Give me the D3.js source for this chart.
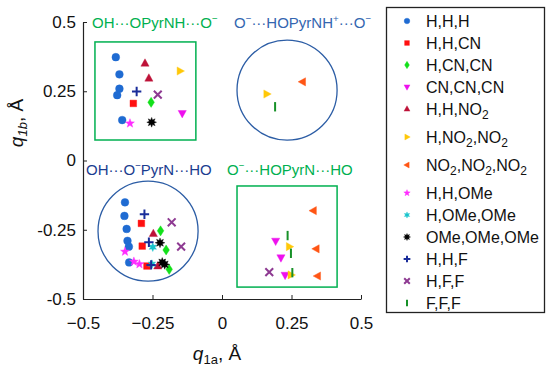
<!DOCTYPE html>
<html>
<head>
<meta charset="utf-8">
<script src="https://cdn.jsdelivr.net/npm/d3@7"></script>
<style>
body { margin: 0; background: #fff; }
svg { font-family: "Liberation Sans", Arial, sans-serif; }
</style>
</head>
<body>
<div id="chart"></div>
<script>
// q1a, q1b pairs for each substituent set
var hhh = [[-0.382, 0.373], [-0.369, 0.311], [-0.369, 0.259], [-0.377, 0.236], [-0.359, 0.146],
           [-0.349, -0.151], [-0.351, -0.200], [-0.343, -0.247], [-0.340, -0.290], [-0.335, -0.311], [-0.334, -0.368]];
var hhcn = [[-0.319, 0.206], [-0.290, -0.227], [-0.287, -0.309], [-0.270, -0.381]];
var hcncn = [[-0.255, 0.210], [-0.221, -0.254], [-0.201, -0.323], [-0.190, -0.393]];
var cncncn = [[-0.143, 0.170], [0.193, -0.291], [0.212, -0.351], [0.227, -0.414]];
var hhno2 = [[-0.277, 0.351], [-0.263, 0.297], [-0.247, -0.264], [-0.231, -0.381]];
var hno2no2 = [[-0.151, 0.323], [0.161, 0.240], [0.242, -0.311], [0.248, -0.413]];
var no2no2no2 = [[0.290, 0.284], [0.329, -0.181], [0.339, -0.319], [0.344, -0.417]];
var hhome = [[-0.331, 0.134], [-0.349, -0.329], [-0.317, -0.365], [-0.297, -0.374]];
var homeome = [[-0.249, -0.313], [-0.252, -0.374]];
var omeomeome = [[-0.253, 0.138], [-0.223, -0.297], [-0.215, -0.368], [-0.206, -0.375]];
var hhf = [[-0.307, 0.249], [-0.279, -0.194], [-0.263, -0.295], [-0.255, -0.377]];
var hff = [[-0.231, 0.238], [-0.181, -0.223], [-0.147, -0.311], [0.170, -0.403]];
var fff = [[0.191, 0.194], [0.236, -0.271], [0.248, -0.335], [0.253, -0.405]];

var seriesNames = ["H,H,H", "H,H,CN", "H,CN,CN", "CN,CN,CN", "H,H,NO_2", "H,NO_2,NO_2", "NO_2,NO_2,NO_2",
                   "H,H,OMe", "H,OMe,OMe", "OMe,OMe,OMe", "H,H,F", "H,F,F", "F,F,F"];
var seriesData = [hhh, hhcn, hcncn, cncncn, hhno2, hno2no2, no2no2no2, hhome, homeome, omeomeome, hhf, hff, fff];

var xTicks = [-0.5, -0.25, 0, 0.25, 0.5];
var xTickLabels = ["\u22120.5", "\u22120.25", "0", "0.25", "0.5"];
var yTicks = [-0.5, -0.25, 0, 0.25, 0.5];
var yTickLabels = ["-0.5", "-0.25", "0", "0.25", "0.5"];

// conformer regions: [label, x0, y0, x1, y1] boxes and [label, cx, cy, r] circles
var boxRegions = [["OH\u00b7\u00b7\u00b7OPyrNH\u00b7\u00b7\u00b7O^\u2212", -0.457, 0.428, -0.094, 0.074],
                  ["O^\u2212\u00b7\u00b7\u00b7HOPyrN\u00b7\u00b7\u00b7HO", 0.054, -0.092, 0.414, -0.457]];
var circleRegions = [["O^\u2212\u00b7\u00b7\u00b7HOPyrNH^+\u00b7\u00b7\u00b7O^\u2212", 0.234, 0.254, 0.18],
                     ["OH\u00b7\u00b7\u00b7O^\u2212PyrN\u00b7\u00b7\u00b7HO", -0.266, -0.255, 0.18]];

(function() {
    var width = 550,
        height = 368;

    var styles = [
        {shape: "circle", color: "#1f6bd2"},
        {shape: "square", color: "#ff1010"},
        {shape: "diamond", color: "#12e01a"},
        {shape: "tridown", color: "#ee10ee"},
        {shape: "triup", color: "#be1238"},
        {shape: "triright", color: "#ffc808"},
        {shape: "trileft", color: "#ff5514"},
        {shape: "star5", color: "#ff2cff"},
        {shape: "star6", color: "#18c4cc"},
        {shape: "star8", color: "#000000"},
        {shape: "plus", color: "#1a2d9a"},
        {shape: "times", color: "#8e3a92"},
        {shape: "bar", color: "#179128"}
    ];

    var x = d3.scaleLinear().domain([-0.5, 0.5]).range([83, 361]);
    var y = d3.scaleLinear().domain([-0.5, 0.5]).range([299, 22]);

    var svg = d3.select("#chart")
        .append("svg")
        .attr("width", width)
        .attr("height", height);

    function starPath(n, ro, ri) {
        var p = d3.path();
        for (var i = 0; i < 2 * n; i++) {
            var a = Math.PI * i / n - Math.PI / 2,
                r = i % 2 ? ri : ro;
            if (i === 0) p.moveTo(r * Math.cos(a), r * Math.sin(a));
            else p.lineTo(r * Math.cos(a), r * Math.sin(a));
        }
        p.closePath();
        return p.toString();
    }

    function tri(r, rot) {
        var pts = [[0, -1.15 * r], [1.05 * r, 0.75 * r], [-1.05 * r, 0.75 * r]];
        var c = Math.cos(rot), s = Math.sin(rot);
        return "M" + pts.map(function(q) {
            return [q[0] * c - q[1] * s, q[0] * s + q[1] * c].join(",");
        }).join("L") + "Z";
    }

    function markerPath(shape, r) {
        switch (shape) {
            case "circle": return d3.symbol(d3.symbolCircle, Math.PI * r * r)();
            case "square": var h = r * 0.85; return "M" + -h + "," + -h + "H" + h + "V" + h + "H" + -h + "Z";
            case "diamond": return "M0," + (-1.3 * r) + "L" + (0.85 * r) + ",0L0," + (1.3 * r) + "L" + (-0.85 * r) + ",0Z";
            case "triup": return tri(r, 0);
            case "tridown": return tri(r, Math.PI);
            case "triright": return tri(r, Math.PI / 2);
            case "trileft": return tri(r, -Math.PI / 2);
            case "star5": return starPath(5, r * 1.2, r * 0.5);
            case "star6": return starPath(6, r * 1.1, r * 0.55);
            case "star8": return starPath(8, r * 1.25, r * 0.65);
            case "plus": return "M" + -r * 1.2 + ",0H" + r * 1.2 + "M0," + -r * 1.2 + "V" + r * 1.2;
            case "times": return "M" + -r + "," + -r + "L" + r + "," + r + "M" + -r + "," + r + "L" + r + "," + -r;
            case "bar": return "M0," + -r * 1.2 + "V" + r * 1.2;
        }
    }

    function isStroked(shape) {
        return shape === "plus" || shape === "times" || shape === "bar";
    }

    function drawMarker(g, st, r) {
        var stroked = isStroked(st.shape);
        return g.append("path")
            .attr("d", markerPath(st.shape, r))
            .attr("fill", stroked ? "none" : st.color)
            .attr("stroke", st.color)
            .attr("stroke-width", stroked ? 2 : 0.4);
    }

    // text with simple markup: ^c superscript, _c subscript
    function richText(sel, str, fs) {
        var parts = str.split(/(\^.|_.)/).filter(function(s) { return s.length; });
        var shift = 0;
        parts.forEach(function(s) {
            var t = sel.append("tspan");
            var target = 0, txt = s, size = fs;
            if (s[0] === "^" && s.length === 2) { target = -0.38 * fs; txt = s[1]; size = fs * 0.65; }
            else if (s[0] === "_" && s.length === 2) { target = 0.3 * fs; txt = s[1]; size = fs * 0.75; }
            else if (/^\u00b7+$/.test(s)) { t.attr("letter-spacing", "-1.6px"); }
            t.attr("dy", target - shift).attr("font-size", size).text(txt);
            shift = target;
        });
    }

    // region outlines
    boxRegions.forEach(function(b) {
        svg.append("rect")
            .attr("x", x(b[1])).attr("y", y(b[2]))
            .attr("width", x(b[3]) - x(b[1])).attr("height", y(b[4]) - y(b[2]))
            .attr("fill", "none").attr("stroke", "#00b050").attr("stroke-width", 1.5);
    });
    circleRegions.forEach(function(c) {
        svg.append("circle")
            .attr("cx", x(c[1])).attr("cy", y(c[2]))
            .attr("r", x(c[3]) - x(0))
            .attr("fill", "none").attr("stroke", "#2c5da5").attr("stroke-width", 1.3);
    });

    // region labels
    var regionLabels = [
        [boxRegions[0][0], 92, 28, "#00b050"],
        [circleRegions[0][0], 234, 28, "#3466b0"],
        [circleRegions[1][0], 86, 175, "#1b3d8f"],
        [boxRegions[1][0], 227, 175, "#00b050"]
    ];
    regionLabels.forEach(function(l) {
        var t = svg.append("text")
            .attr("x", l[1]).attr("y", l[2])
            .attr("fill", l[3]).attr("font-size", 15);
        richText(t, l[0], 15);
    });

    // axes
    svg.append("g")
        .attr("transform", "translate(0," + y(-0.5) + ")")
        .call(d3.axisBottom(x).tickValues(xTicks).tickSizeInner(-4).tickSizeOuter(0)
            .tickFormat(function(d, i) { return xTickLabels[i]; }))
        .call(function(g) {
            g.select(".domain").attr("stroke", "#222").attr("stroke-width", 1.2);
            g.selectAll(".tick line").attr("stroke", "#222");
            g.selectAll(".tick text").attr("fill", "#111").attr("font-size", 17)
                .attr("font-family", "Liberation Sans, Arial, sans-serif").attr("y", 18).attr("dy", "0.71em");
        });

    svg.append("g")
        .attr("transform", "translate(" + x(-0.5) + ",0)")
        .call(d3.axisLeft(y).tickValues(yTicks).tickSizeInner(-4).tickSizeOuter(0)
            .tickFormat(function(d, i) { return yTickLabels[i]; }))
        .call(function(g) {
            g.select(".domain").attr("stroke", "#222").attr("stroke-width", 1.2);
            g.selectAll(".tick line").attr("stroke", "#222");
            g.selectAll(".tick text").attr("fill", "#111").attr("font-size", 17)
                .attr("font-family", "Liberation Sans, Arial, sans-serif").attr("x", -7);
        });

    // axis titles
    var xt = svg.append("text").attr("x", 217).attr("y", 360)
        .attr("text-anchor", "middle").attr("font-size", 19).attr("fill", "#111");
    xt.append("tspan").attr("font-style", "italic").text("q");
    xt.append("tspan").attr("font-size", 13).attr("dy", 4).text("1a");
    xt.append("tspan").attr("dy", -4).text(", \u00c5");

    var yt = svg.append("text").attr("transform", "translate(23,123) rotate(-90)")
        .attr("text-anchor", "middle").attr("font-size", 19).attr("fill", "#111");
    yt.append("tspan").attr("font-style", "italic").text("q");
    yt.append("tspan").attr("font-size", 13).attr("font-style", "italic").attr("dy", 4).text("1b");
    yt.append("tspan").attr("dy", -4).text(", \u00c5");

    // points
    seriesData.forEach(function(pts, i) {
        var g = svg.append("g").attr("class", "series");
        pts.forEach(function(p) {
            drawMarker(g, styles[i], 3.9)
                .attr("transform", "translate(" + x(p[0]) + "," + y(p[1]) + ")");
        });
    });

    // legend
    var legend = svg.append("g");
    legend.append("rect")
        .attr("x", 386.5).attr("y", 7.5).attr("width", 158).attr("height", 305)
        .attr("fill", "#fff").attr("stroke", "#222").attr("stroke-width", 1.3);
    var ly = 21;
    seriesNames.forEach(function(name, i) {
        if (i > 0) ly += 22 + (seriesNames[i - 1].indexOf("_") >= 0 ? 6 : 0);
        drawMarker(legend, styles[i], 2.8).attr("transform", "translate(407," + ly + ")");
        var t = legend.append("text").attr("x", 426).attr("y", ly + 5.5)
            .attr("font-size", 16).attr("fill", "#111");
        richText(t, name, 16);
    });
})();
</script>
</body>
</html>
